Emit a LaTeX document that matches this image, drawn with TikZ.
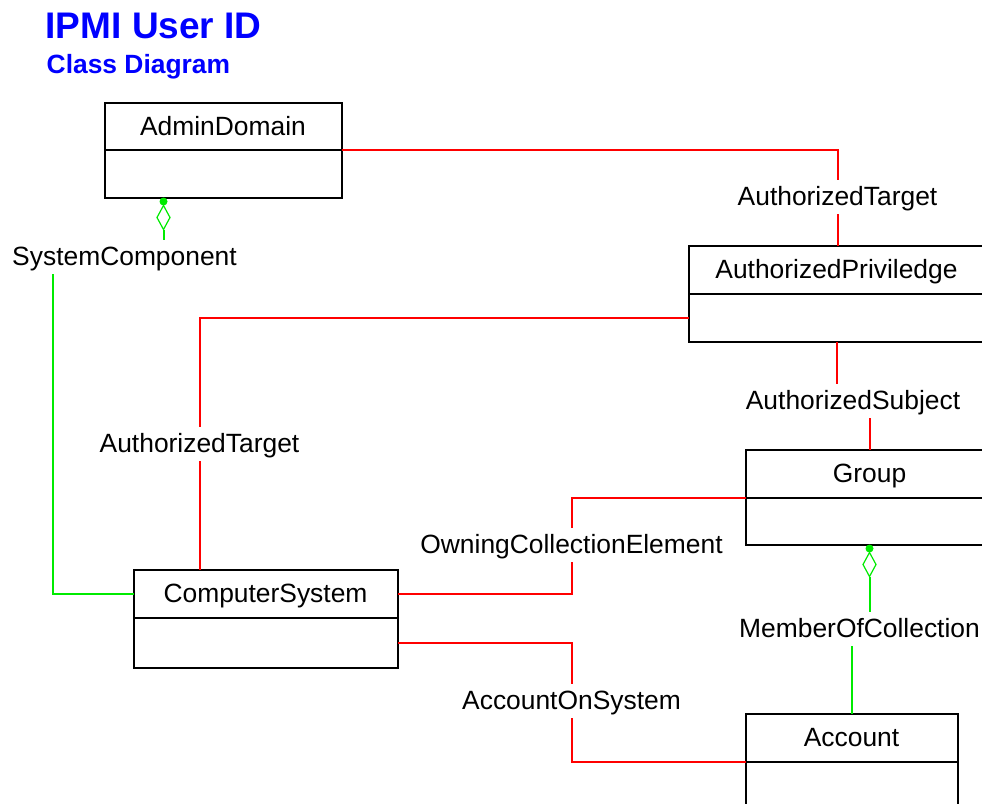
\documentclass[tikz,border=0pt]{standalone}
\usepackage{fontspec}
\setmainfont{Liberation Sans}
\usetikzlibrary{shapes.geometric}
\definecolor{lred}{RGB}{255,0,0}
\definecolor{lgreen}{RGB}{0,235,0}
\definecolor{tblue}{RGB}{0,0,255}
\begin{document}
\begin{tikzpicture}[x=1pt,y=-1pt,
  every node/.style={font=\fontsize{26.4pt}{30pt}\selectfont},
  clshead/.style={draw=black,line width=2pt,fill=white,inner sep=0pt,outer sep=0pt,
    text height=18.6pt,text depth=0pt,anchor=north west},
  clsbody/.style={draw=black,line width=2pt,fill=white,inner sep=0pt,outer sep=0pt,anchor=north},
  lbl/.style={inner xsep=2pt,inner ysep=6.5pt,outer sep=0pt,text height=18.6pt,text depth=2pt,anchor=base},
  conr/.style={draw=lred,line width=2pt},
  cong/.style={draw=lgreen,line width=2pt},
  dotg/.style={circle,fill=lgreen,minimum size=8pt,inner sep=0pt,outer sep=0pt,anchor=north},
  diam/.style={diamond,draw=lgreen,fill=white,line width=1.2pt,minimum width=13pt,minimum height=24pt,
    inner sep=0pt,outer sep=0pt,anchor=north}]
\clip (-0.5,-0.5) rectangle (981.5,802.5);
\fill[white] (-0.5,-0.5) rectangle (981.5,802.5);

% titles
\node[anchor=base west,inner sep=0pt,text=tblue,font=\fontsize{37pt}{40pt}\selectfont\bfseries] (title) at (45,38.3) {IPMI User ID};
\node[anchor=base west,inner sep=0pt,text=tblue,font=\fontsize{26.4pt}{30pt}\selectfont\bfseries] (subtitle) at (46,73) {Class Diagram};

% classes
\node[clshead,minimum width=237pt,minimum height=47pt] (adT) at (104,102) {AdminDomain};
\node[clsbody,minimum width=237pt,minimum height=48pt] (adB) at (adT.south) {};

\node[clshead,minimum width=296pt,minimum height=48pt] (apT) at (688,245) {AuthorizedPriviledge};
\node[clsbody,minimum width=296pt,minimum height=48pt] (apB) at (apT.south) {};

\node[clshead,minimum width=248pt,minimum height=48pt] (grT) at (745,449) {Group};
\node[clsbody,minimum width=248pt,minimum height=47pt] (grB) at (grT.south) {};

\node[clshead,minimum width=264pt,minimum height=48pt] (csT) at (133,569) {ComputerSystem};
\node[clsbody,minimum width=264pt,minimum height=50pt] (csB) at (csT.south) {};

\node[clshead,minimum width=212pt,minimum height=48pt] (acT) at (745,713) {Account};
\node[clsbody,minimum width=212pt,minimum height=48pt] (acB) at (acT.south) {};

% labels
\node[lbl] (l1) at (837,205) {AuthorizedTarget};
\node[lbl] (l2) at (199,452) {AuthorizedTarget};
\node[lbl] (l3) at (852.5,409) {AuthorizedSubject};
\node[lbl] (l4) at (571,553) {OwningCollectionElement};
\node[lbl] (l5) at (859,637) {MemberOfCollection};
\node[lbl] (l6) at (571,709) {AccountOnSystem};
\node[lbl] (l7) at (124,265) {SystemComponent};

% aggregation markers
\node[dotg] (dt1) at (163,197) {};
\node[diam] (dm1) at (dt1.south) {};
\node[dotg] (dt2) at (grB.south) {};
\node[diam] (dm2) at (dt2.south) {};
\coordinate (c7) at (52,593);

% connectors
\draw[conr] (adT.south east) -| (l1.north);
\draw[conr] (l1.south) -- (l1.south |- apT.north);
\draw[conr] (apB.west) -| (l2.north);
\draw[conr] (l2.south) -- (l2.south |- csT.north);
\draw[conr] (apB.south) -- (apB.south |- l3.north);
\draw[conr] (l3.south -| grT.north) -- (grT.north);
\draw[conr] (grT.south west) -| (l4.north);
\draw[conr] (l4.south) |- (csT.east);
\draw[cong] (dm2.south) -- (dm2.south |- l5.north);
\draw[cong] (l5.south -| acT.north) -- (acT.north);
\draw[conr] (csB.east) -| (l6.north);
\draw[conr] (l6.south) |- (acT.south west);
\draw[cong] (dm1.south) -- (dm1.south |- l7.north);
\draw[cong] (l7.south -| c7) -- (c7) -- (csT.west);
\end{tikzpicture}
\end{document}
